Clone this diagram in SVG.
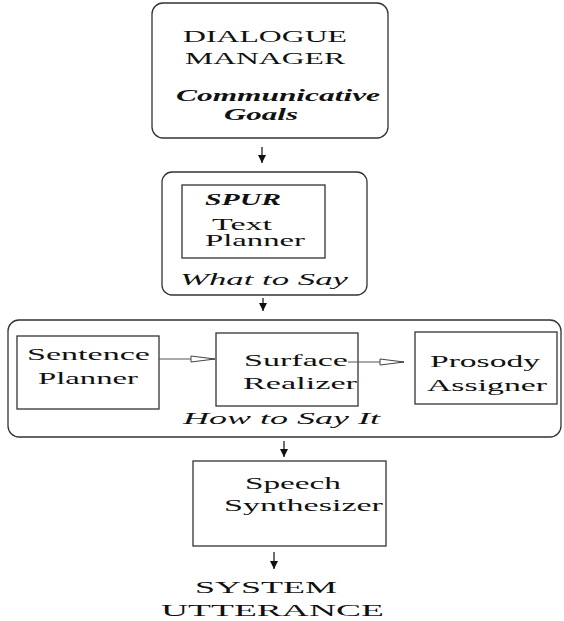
<svg xmlns="http://www.w3.org/2000/svg" width="564" height="621" viewBox="0 0 564 621">
<defs>
<style>
.box{fill:none;stroke:#333;stroke-width:1.3}
.t{font-family:"Liberation Serif","Times New Roman",serif;font-size:17px;fill:#111}
.bi{font-weight:bold;font-style:italic}
.i{font-style:italic}
.ln{fill:none;stroke:#222;stroke-width:1.3}
.ln2{fill:none;stroke:#555;stroke-width:1}
</style>
<marker id="ah" viewBox="0 0 8 10" refX="8" refY="5" markerWidth="8" markerHeight="10" markerUnits="userSpaceOnUse" orient="auto">
<path d="M0,1 L8,5 L0,9 Z" fill="#111"/>
</marker>
<marker id="oh" viewBox="0 0 26 10" refX="25" refY="5" markerWidth="26" markerHeight="10" markerUnits="userSpaceOnUse" orient="auto">
<path d="M1,2 L25,5 L1,8 Z" fill="#fff" stroke="#444" stroke-width="1"/>
</marker>
</defs>
<rect width="564" height="621" fill="#fff"/>
<g id="dialogue-manager">
<rect class="box" x="152" y="3" width="236" height="135" rx="11"/>
<text class="t" x="183" y="42" textLength="164" lengthAdjust="spacingAndGlyphs">DIALOGUE</text>
<text class="t" x="185" y="64" textLength="160" lengthAdjust="spacingAndGlyphs">MANAGER</text>
<text class="t bi" x="176" y="101" textLength="204" lengthAdjust="spacingAndGlyphs">Communicative</text>
<text class="t bi" x="224" y="120" textLength="74" lengthAdjust="spacingAndGlyphs">Goals</text>
</g>
<g id="what-to-say">
<rect class="box" x="162" y="172" width="205" height="123" rx="10"/>
<text class="t i" x="180" y="285" textLength="168" lengthAdjust="spacingAndGlyphs">What to Say</text>
</g>
<g id="text-planner">
<rect class="box" x="182" y="185" width="143" height="73"/>
<text class="t bi" x="205" y="205" textLength="76" lengthAdjust="spacingAndGlyphs">SPUR</text>
<text class="t" x="212" y="230" textLength="60" lengthAdjust="spacingAndGlyphs">Text</text>
<text class="t" x="205" y="246" textLength="100" lengthAdjust="spacingAndGlyphs">Planner</text>
</g>
<g id="how-to-say-it">
<rect class="box" x="8" y="320" width="553" height="117" rx="11"/>
<text class="t i" x="183" y="424" textLength="197" lengthAdjust="spacingAndGlyphs">How to Say It</text>
</g>
<g id="sentence-planner">
<rect class="box" x="17" y="336" width="142" height="73"/>
<text class="t" x="27" y="360" textLength="123" lengthAdjust="spacingAndGlyphs">Sentence</text>
<text class="t" x="38" y="384" textLength="100" lengthAdjust="spacingAndGlyphs">Planner</text>
</g>
<g id="surface-realizer">
<rect class="box" x="216" y="333" width="142" height="73"/>
<text class="t" x="244" y="366" textLength="104" lengthAdjust="spacingAndGlyphs">Surface</text>
<text class="t" x="243" y="389" textLength="114" lengthAdjust="spacingAndGlyphs">Realizer</text>
</g>
<g id="prosody-assigner">
<rect class="box" x="415" y="332" width="142" height="72"/>
<text class="t" x="430" y="367" textLength="110" lengthAdjust="spacingAndGlyphs">Prosody</text>
<text class="t" x="427" y="391" textLength="120" lengthAdjust="spacingAndGlyphs">Assigner</text>
</g>
<g id="speech-synthesizer">
<rect class="box" x="193" y="461" width="193" height="85"/>
<text class="t" x="245" y="489" textLength="96" lengthAdjust="spacingAndGlyphs">Speech</text>
<text class="t" x="224" y="511" textLength="159" lengthAdjust="spacingAndGlyphs">Synthesizer</text>
</g>
<g id="system-utterance">
<text class="t" x="195" y="593" textLength="142" lengthAdjust="spacingAndGlyphs">SYSTEM</text>
<text class="t" x="161" y="616" textLength="223" lengthAdjust="spacingAndGlyphs">UTTERANCE</text>
</g>
<g id="connectors">
<line class="ln" x1="262" y1="147" x2="262" y2="163" marker-end="url(#ah)"/>
<line class="ln" x1="263" y1="298" x2="263" y2="311" marker-end="url(#ah)"/>
<line class="ln2" x1="159" y1="359" x2="215" y2="359" marker-end="url(#oh)"/>
<line class="ln2" x1="348" y1="362" x2="404" y2="362" marker-end="url(#oh)"/>
<line class="ln" x1="284" y1="441" x2="284" y2="457" marker-end="url(#ah)"/>
<line class="ln" x1="274" y1="552" x2="274" y2="569" marker-end="url(#ah)"/>
</g>
</svg>
